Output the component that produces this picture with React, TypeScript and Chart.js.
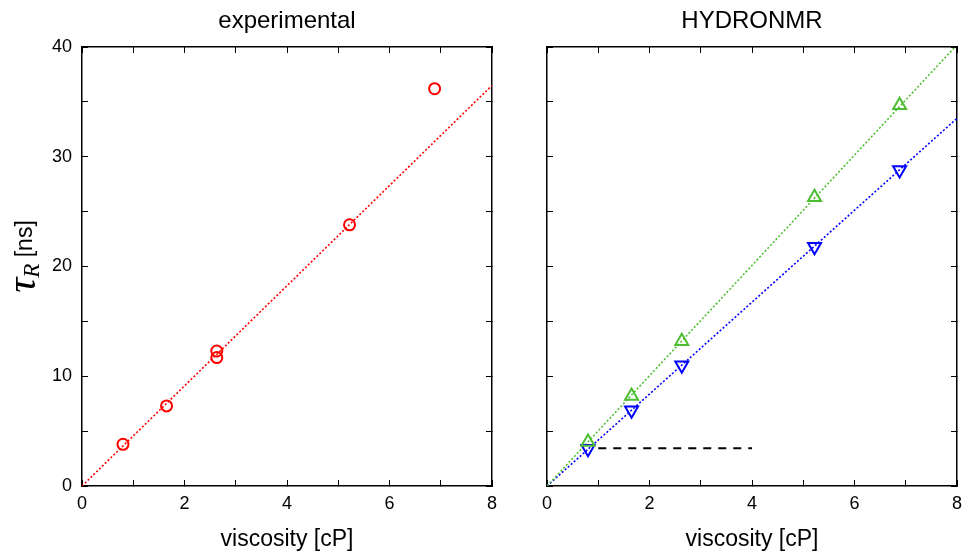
import React, { useEffect, useRef } from 'react';
import { Chart, registerables } from 'chart.js';
Chart.register(...registerables);

// ---- data ----
const expViscosity = [0.8, 1.65, 2.63, 2.63, 5.22, 6.88];
const expTau = [3.8, 7.3, 12.3, 11.7, 23.8, 36.2];
const expFitX = [0, 8];
const expFitY = [0, 36.5];

const hydroViscosity = [0.8, 1.65, 2.63, 5.22, 6.88];
const hydroUpTau = [4.0, 8.2, 13.2, 26.3, 34.7];
const hydroDownTau = [3.4, 6.9, 11.0, 21.8, 28.8];
const upFitX = [0, 8];
const upFitY = [0, 40.2];
const downFitX = [0, 8];
const downFitY = [0, 33.5];
const refLineX = [1.0, 4.0];
const refLineY = [3.45, 3.45];

const xTickLabels = [0, 2, 4, 6, 8];
const yTickLabels = [0, 10, 20, 30, 40];

const titleLeft = 'experimental';
const titleRight = 'HYDRONMR';
const xAxisTitle = 'viscosity [cP]';

const SANS = "'Liberation Sans', Arial, Helvetica, sans-serif";
const RED = '#ff0000';
const GREEN = '#4dbd33';
const BLUE = '#0000ff';

const pts = (xs: number[], ys: number[]) => xs.map((x, i) => ({ x, y: ys[i] }));

function makeScales(yWidth: number, showYLabels: boolean) {
  const grid = { drawOnChartArea: false, tickLength: -6, color: '#000', lineWidth: 1 };
  const border = { display: true, color: '#000', width: 1.5 };
  return {
    x: {
      type: 'linear', position: 'bottom', min: 0, max: 8,
      grid, border,
      ticks: {
        stepSize: 1, padding: 13, color: '#000', autoSkip: false, maxRotation: 0,
        font: { family: SANS, size: 18 },
        callback: (v: any) => (xTickLabels.includes(Number(v)) ? String(v) : ''),
      },
      title: { display: true, text: xAxisTitle, color: '#000', font: { family: SANS, size: 23, lineHeight: 1 }, padding: { top: 0, bottom: 0 } },
      afterFit: (s: any) => { s.height = 65; s.paddingLeft = 0; s.paddingRight = 0; },
    },
    x2: {
      type: 'linear', position: 'top', min: 0, max: 8,
      grid, border,
      ticks: { stepSize: 1, display: false, autoSkip: false },
      afterFit: (s: any) => { s.height = 0; s.paddingLeft = 0; s.paddingRight = 0; },
    },
    y: {
      type: 'linear', position: 'left', min: 0, max: 40,
      grid, border,
      ticks: {
        stepSize: 5, padding: 16, color: '#000', autoSkip: false, display: showYLabels,
        font: { family: SANS, size: 18 },
        callback: (v: any) => (yTickLabels.includes(Number(v)) ? String(v) : ''),
      },
      afterFit: (s: any) => { s.width = yWidth; s.paddingTop = 0; s.paddingBottom = 0; },
    },
    y2: {
      type: 'linear', position: 'right', min: 0, max: 40,
      grid, border,
      ticks: { stepSize: 5, display: false, autoSkip: false },
      afterFit: (s: any) => { s.width = 0; s.paddingTop = 0; s.paddingBottom = 0; },
    },
  };
}

const yTitlePlugin = {
  id: 'yTitle',
  afterDraw(chart: any) {
    const ctx = chart.ctx;
    const area = chart.chartArea;
    ctx.save();
    const tauFont = "italic 42px 'Liberation Serif', 'DejaVu Serif', serif";
    const subFont = "italic 23px 'Liberation Serif', 'DejaVu Serif', serif";
    const unitFont = `23px ${SANS}`;
    ctx.font = tauFont; const wTau = ctx.measureText('τ').width;
    ctx.font = subFont; const wSub = ctx.measureText('R').width;
    ctx.font = unitFont; const wUnit = ctx.measureText(' [ns]').width;
    const total = wTau + wSub + wUnit;
    const cy = (area.top + area.bottom) / 2 - 10;
    ctx.translate(35, cy);
    ctx.rotate(-Math.PI / 2);
    ctx.fillStyle = '#000';
    ctx.textBaseline = 'alphabetic';
    ctx.textAlign = 'left';
    let x = -total / 2;
    ctx.font = tauFont; ctx.fillText('τ', x, 0); x += wTau;
    ctx.font = subFont; ctx.fillText('R', x, 4); x += wSub;
    ctx.font = unitFont; ctx.fillText(' [ns]', x, -3);
    ctx.restore();
  },
};

function makeTitle(text: string) {
  return {
    display: true, text, color: '#000', fullSize: false,
    font: { family: SANS, size: 24, weight: 'normal' as const, lineHeight: 1.2 },
    padding: { top: 7, bottom: 11.2 },
  };
}

function LeftChart() {
  const ref = useRef<HTMLCanvasElement>(null);
  useEffect(() => {
    const chart = new Chart(ref.current!, {
      type: 'scatter',
      data: {
        datasets: [
          {
            label: 'experimental', data: pts(expViscosity, expTau),
            pointStyle: 'circle', pointRadius: 5.5, pointBorderWidth: 2,
            borderColor: RED, backgroundColor: 'rgba(0,0,0,0)', showLine: false,
          },
          {
            label: 'fit', data: pts(expFitX, expFitY), showLine: true,
            borderColor: RED, borderWidth: 1.6, borderDash: [2, 2], pointRadius: 0,
          },
        ],
      },
      options: {
        animation: false, responsive: false,
        layout: { padding: { left: 0, right: 8, top: 0, bottom: 0 } },
        plugins: { legend: { display: false }, tooltip: { enabled: false }, title: makeTitle(titleLeft) },
        scales: makeScales(82, true) as any,
      },
      plugins: [yTitlePlugin],
    });
    return () => chart.destroy();
  }, []);
  return <canvas ref={ref} width={500} height={551} style={{ position: 'absolute', left: 0, top: 0, width: 500, height: 551 }} />;
}

function RightChart() {
  const ref = useRef<HTMLCanvasElement>(null);
  useEffect(() => {
    const chart = new Chart(ref.current!, {
      type: 'scatter',
      data: {
        datasets: [
          {
            label: 'up', data: pts(hydroViscosity, hydroUpTau),
            pointStyle: 'triangle', pointRadius: 7.5, pointBorderWidth: 2,
            borderColor: GREEN, backgroundColor: 'rgba(0,0,0,0)', showLine: false,
          },
          {
            label: 'down', data: pts(hydroViscosity, hydroDownTau),
            pointStyle: 'triangle', rotation: 180, pointRotation: 180, pointRadius: 7.5, pointBorderWidth: 2,
            borderColor: BLUE, backgroundColor: 'rgba(0,0,0,0)', showLine: false,
          } as any,
          {
            label: 'ref', data: pts(refLineX, refLineY), showLine: true,
            borderColor: '#000', borderWidth: 2, borderDash: [8, 7], pointRadius: 0,
          },
          {
            label: 'upfit', data: pts(upFitX, upFitY), showLine: true,
            borderColor: GREEN, borderWidth: 1.6, borderDash: [2, 2], pointRadius: 0,
          },
          {
            label: 'downfit', data: pts(downFitX, downFitY), showLine: true,
            borderColor: BLUE, borderWidth: 1.6, borderDash: [2, 2], pointRadius: 0,
          },
        ],
      },
      options: {
        animation: false, responsive: false,
        layout: { padding: { left: 0, right: 16, top: 0, bottom: 0 } },
        plugins: { legend: { display: false }, tooltip: { enabled: false }, title: makeTitle(titleRight) },
        scales: makeScales(47, false) as any,
      },
    });
    return () => chart.destroy();
  }, []);
  return <canvas ref={ref} width={473} height={551} style={{ position: 'absolute', left: 500, top: 0, width: 473, height: 551 }} />;
}

export default function App() {
  return (
    <div style={{ position: 'absolute', left: 0, top: 0, width: 963, height: 551, background: '#fff', overflow: 'hidden' }}>
      <LeftChart />
      <RightChart />
    </div>
  );
}
